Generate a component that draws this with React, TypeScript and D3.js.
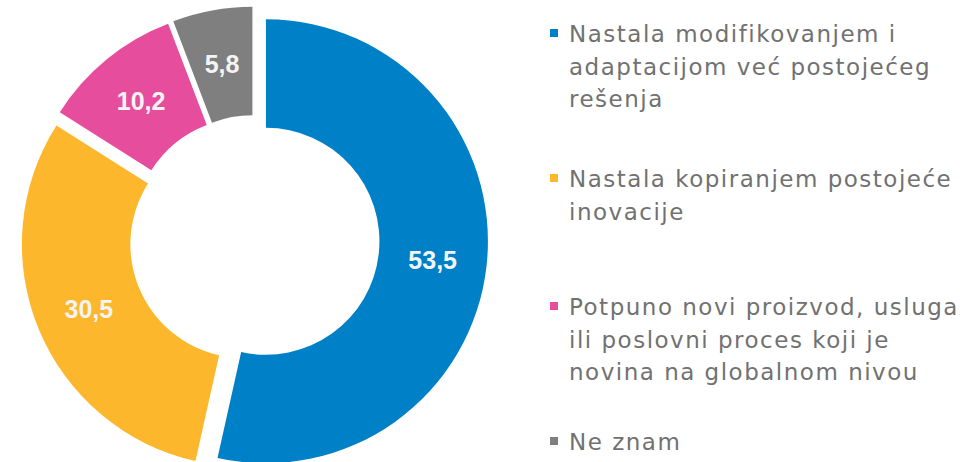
import React from "react";
import * as d3 from "d3";

const categories = [
  ["Nastala modifikovanjem i", "adaptacijom već postojećeg", "rešenja"],
  ["Nastala kopiranjem postojeće", "inovacije"],
  ["Potpuno novi proizvod, usluga", "ili poslovni proces koji je", "novina na globalnom nivou"],
  ["Ne znam"],
];
const values = [53.5, 30.5, 10.2, 5.8];
const valueLabels = ["53,5", "30,5", "10,2", "5,8"];
const colors = ["#0080C6", "#FDB72C", "#E64E9D", "#7F7F7F"];
// baseline of each legend entry's first line
const legendTops = [42, 187, 315, 450];

export default function App() {
  const width = 975,
    height = 462;
  const cx = 254.5,
    cy = 240,
    outer = 222,
    inner = 113.5,
    explode = 11.5;

  const pie = d3
    .pie<number>()
    .sort(null)
    .value((d) => d)
    .startAngle(0)
    .endAngle(2 * Math.PI);
  const arcs = pie(values);
  const arc = d3.arc<d3.PieArcDatum<number>>().innerRadius(inner).outerRadius(outer);

  const lineH = 32.5;

  return (
    <svg
      width={width}
      height={height}
      style={{ position: "absolute", left: 0, top: 0 }}
    >
      <rect width={width} height={height} fill="#fff" />
      <g transform={`translate(${cx},${cy})`}>
        {arcs.map((a, i) => {
          const mid = (a.startAngle + a.endAngle) / 2;
          const dx = Math.sin(mid) * explode;
          const dy = -Math.cos(mid) * explode;
          const [lx, ly] = arc.centroid(a);
          return (
            <g key={i} transform={`translate(${dx},${dy})`}>
              <path d={arc(a) || ""} fill={colors[i]} />
              <text
                x={lx}
                y={ly}
                textAnchor="middle"
                dominantBaseline="central"
                fill="#F4F4F4"
                fontFamily="'Liberation Sans', Arial, sans-serif"
                fontWeight="bold"
                fontSize={25}
              >
                {valueLabels[i]}
              </text>
            </g>
          );
        })}
      </g>
      <g>
        {categories.map((lines, i) => (
          <g key={i}>
            <rect x={550} y={legendTops[i] - 13} width={8} height={8} fill={colors[i]} />
            {lines.map((t, j) => (
              <text
                key={j}
                x={569}
                y={legendTops[i] + j * lineH}
                fill="#717171"
                fontFamily="'DejaVu Sans', sans-serif"
                fontSize={23}
                letterSpacing={1.5}
              >
                {t}
              </text>
            ))}
          </g>
        ))}
      </g>
    </svg>
  );
}
